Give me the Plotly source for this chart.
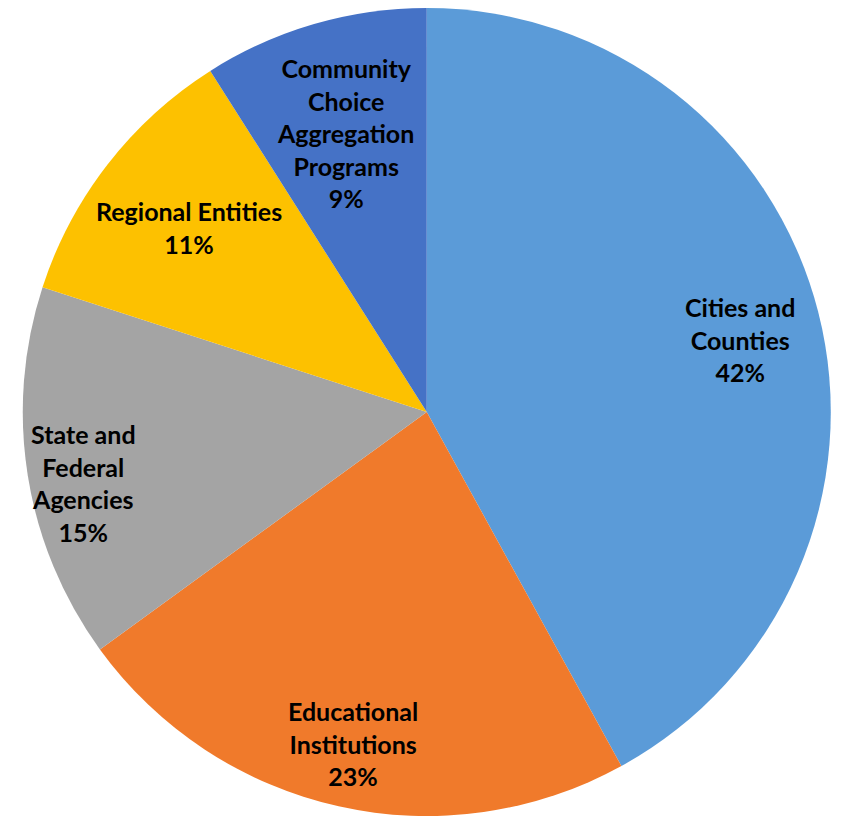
import math
import plotly.graph_objects as go

categories = ["Cities and<br>Counties", "Educational<br>Institutions", "State and<br>Federal<br>Agencies",
              "Regional Entities", "Community<br>Choice<br>Aggregation<br>Programs"]
values = [42, 23, 15, 11, 9]
colors = ["#5B9BD8", "#F07A2B", "#A4A4A4", "#FDC100", "#4572C6"]

# layout parameters
W, H = 846, 821
dom_x = [0.0, 0.99]
dom_y = [0.0158, 1.0]
label_radius = [0.80, 0.84, 0.86, 0.745, 0.72]
label_yshift = [-8, 0, -17, 0, 0]

fig = go.Figure(go.Pie(
    labels=categories,
    values=values,
    sort=False,
    direction="clockwise",
    rotation=0,
    marker=dict(colors=colors, line=dict(width=0)),
    textinfo="none",
    domain=dict(x=dom_x, y=dom_y),
    showlegend=False,
    hoverinfo="label+percent",
))

# label positions derived from the slice mid-angles
cx = (dom_x[0] + dom_x[1]) / 2 * W
cy = (1 - (dom_y[0] + dom_y[1]) / 2) * H
r = min((dom_x[1] - dom_x[0]) * W, (dom_y[1] - dom_y[0]) * H) / 2
total = sum(values)
cum = 0
for lab, v, f, ys in zip(categories, values, label_radius, label_yshift):
    mid = (cum + v / 2) / total * 2 * math.pi
    cum += v
    px = cx + f * r * math.sin(mid)
    py = cy - f * r * math.cos(mid)
    fig.add_annotation(
        x=px / W, y=1 - py / H, xref="paper", yref="paper",
        text=f"<b>{lab}<br>{round(v / total * 100)}%</b>",
        showarrow=False, align="center",
        xanchor="center", yanchor="middle", yshift=ys,
        font=dict(family="Lato", size=25, color="black"),
    )

fig.update_layout(
    width=W, height=H,
    margin=dict(l=0, r=0, t=0, b=0),
    paper_bgcolor="white",
)
fig.write_html("out.html")
